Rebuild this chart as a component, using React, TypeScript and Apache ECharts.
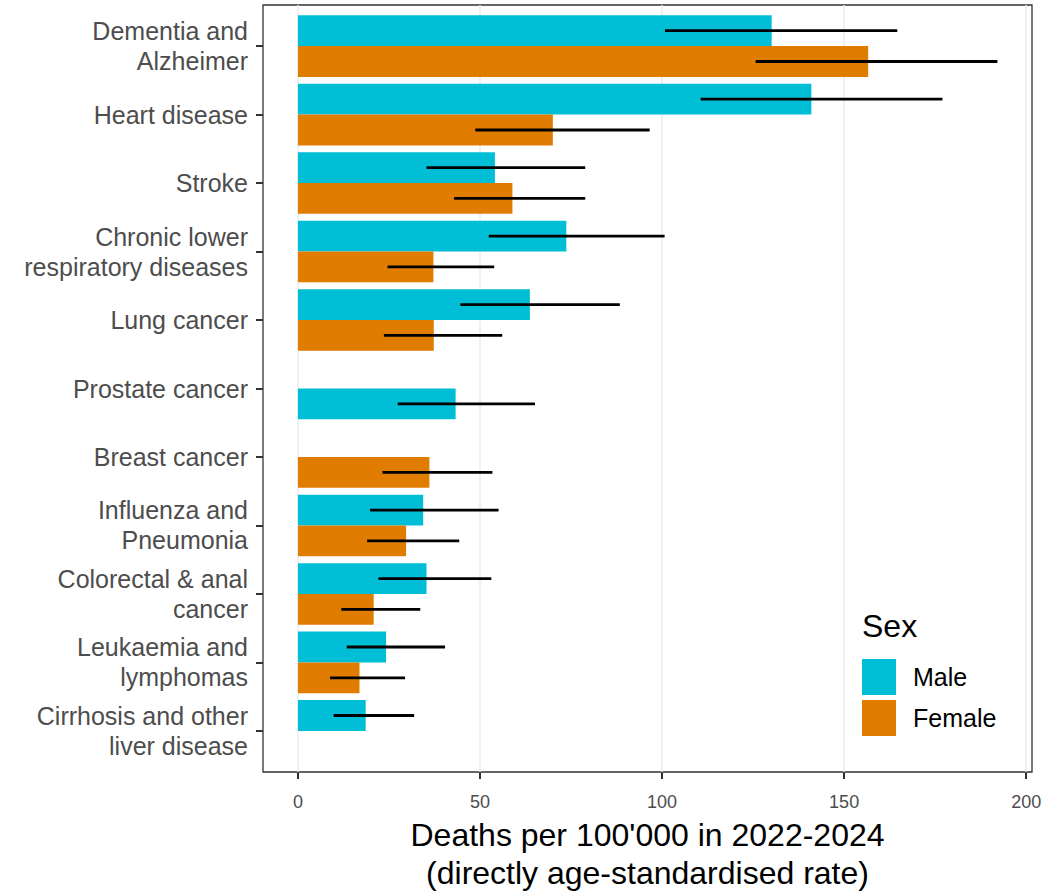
import React, { useEffect, useRef } from "react";
import * as echarts from "echarts";

const categories = [
  "Dementia and\nAlzheimer",
  "Heart disease",
  "Stroke",
  "Chronic lower\nrespiratory diseases",
  "Lung cancer",
  "Prostate cancer",
  "Breast cancer",
  "Influenza and\nPneumonia",
  "Colorectal & anal\ncancer",
  "Leukaemia and\nlymphomas",
  "Cirrhosis and other\nliver disease",
];

const maleRate = [130.1, 141.0, 54.1, 73.7, 63.7, 43.3, null, 34.4, 35.3, 24.2, 18.6];
const maleLow = [100.8, 110.6, 35.3, 52.4, 44.6, 27.4, null, 19.8, 22.1, 13.4, 9.8];
const maleHigh = [164.6, 177.0, 78.9, 100.7, 88.4, 65.1, null, 55.1, 53.1, 40.4, 31.9];

const femaleRate = [156.6, 70.0, 58.9, 37.2, 37.3, null, 36.1, 29.7, 20.8, 16.9, null];
const femaleLow = [125.7, 48.7, 42.9, 24.6, 23.6, null, 23.2, 19.0, 11.9, 8.8, null];
const femaleHigh = [192.1, 96.6, 78.9, 53.9, 56.1, null, 53.4, 44.3, 33.6, 29.4, null];

const xTicks = [0, 50, 100, 150, 200];

const MALE_COLOR = "#00BED6";
const FEMALE_COLOR = "#E07C00";
const FONT = "'Liberation Sans', Arial, Helvetica, sans-serif";

// single bars that sit in the lower half of their band (as in the reference)
const singleBelow = new Set(["Prostate cancer"]);

function buildData(rate: (number | null)[], low: (number | null)[], high: (number | null)[], isMale: boolean) {
  const out: number[][] = [];
  rate.forEach((v, i) => {
    if (v == null) return;
    let slot = isMale ? -1 : 1;
    if (isMale && singleBelow.has(categories[i].replace(/\n/g, " "))) slot = 1;
    out.push([i, v, low[i] as number, high[i] as number, slot]);
  });
  return out;
}

function makeRender(color: string) {
  return (params: any, api: any) => {
    const cat = api.value(0);
    const v = api.value(1);
    const lo = api.value(2);
    const hi = api.value(3);
    const slot = api.value(4);
    const band = Math.abs(api.size([0, 1])[1]);
    const h = band * 0.45;
    const p0 = api.coord([0, cat]);
    const p1 = api.coord([v, cat]);
    const yTop = slot < 0 ? p0[1] - h : p0[1];
    const yMid = yTop + h / 2;
    const l = api.coord([lo, cat]);
    const r = api.coord([hi, cat]);
    return {
      type: "group",
      children: [
        {
          type: "rect",
          shape: { x: p0[0], y: yTop, width: p1[0] - p0[0], height: h },
          style: { fill: color },
        },
        {
          type: "line",
          shape: { x1: l[0], y1: yMid, x2: r[0], y2: yMid },
          style: { stroke: "#000", lineWidth: 2.8 },
          z2: 10,
        },
      ],
    };
  };
}

export default function App() {
  const ref = useRef<HTMLDivElement>(null);

  useEffect(() => {
    document.body.style.margin = "0";
    if (!ref.current) return;
    const chart = echarts.init(ref.current, null, { renderer: "svg" });
    const catIdx = categories.map((_, i) => i);

    chart.setOption({
      animation: false,
      backgroundColor: "#fff",
      textStyle: { fontFamily: FONT },
      grid: {
        left: 263,
        right: 31,
        top: 5,
        bottom: 120,
        show: true,
        borderColor: "#333",
        borderWidth: 1.3,
        backgroundColor: "transparent",
        containLabel: false,
        outerBoundsMode: "none",
      },
      xAxis: {
        type: "value",
        min: -9.6,
        max: 201.6,
        position: "bottom",
        axisLine: { show: false, onZero: false },
        axisTick: {
          show: true,
          customValues: xTicks,
          length: 7,
          lineStyle: { color: "#333", width: 2 },
        },
        axisLabel: {
          customValues: xTicks,
          fontSize: 18,
          color: "#4d4d4d",
          margin: 21,
          fontFamily: FONT,
        },
        splitLine: { show: true, lineStyle: { color: "#ebebeb", width: 1.5 } },
        name: "Deaths per 100'000 in 2022-2024\n(directly age-standardised rate)",
        nameLocation: "middle",
        nameGap: 42,
        nameTextStyle: { fontSize: 32, lineHeight: 38, color: "#000", fontFamily: FONT },
      },
      yAxis: {
        type: "value",
        inverse: true,
        min: -0.6,
        max: 10.6,
        position: "left",
        axisLine: { show: false, onZero: false },
        splitLine: { show: false },
        axisTick: {
          show: true,
          customValues: catIdx,
          length: 7,
          lineStyle: { color: "#333", width: 2 },
        },
        axisLabel: {
          customValues: catIdx,
          formatter: (v: number) => categories[Math.round(v)],
          fontSize: 25,
          lineHeight: 30,
          color: "#4d4d4d",
          align: "right",
          margin: 15,
          fontFamily: FONT,
        },
      },
      legend: {
        data: ["Male", "Female"],
        orient: "vertical",
        left: 862,
        top: 659,
        itemWidth: 34,
        itemHeight: 36,
        itemGap: 5,
        icon: "rect",
        padding: 0,
        textStyle: { fontSize: 25, color: "#000", padding: [0, 0, 0, 12], fontFamily: FONT },
      },
      graphic: [
        {
          type: "text",
          left: 862,
          top: 610,
          z: 10,
          style: { text: "Sex", fontSize: 32, fill: "#000", fontFamily: FONT },
        },
      ],
      series: [
        {
          name: "Male",
          type: "custom",
          itemStyle: { color: MALE_COLOR },
          encode: { x: 1, y: 0 },
          renderItem: makeRender(MALE_COLOR),
          data: buildData(maleRate, maleLow, maleHigh, true),
          z: 3,
        },
        {
          name: "Female",
          type: "custom",
          itemStyle: { color: FEMALE_COLOR },
          encode: { x: 1, y: 0 },
          renderItem: makeRender(FEMALE_COLOR),
          data: buildData(femaleRate, femaleLow, femaleHigh, false),
          z: 3,
        },
      ],
    });

    return () => chart.dispose();
  }, []);

  return <div ref={ref} style={{ width: 1063, height: 892 }} />;
}
